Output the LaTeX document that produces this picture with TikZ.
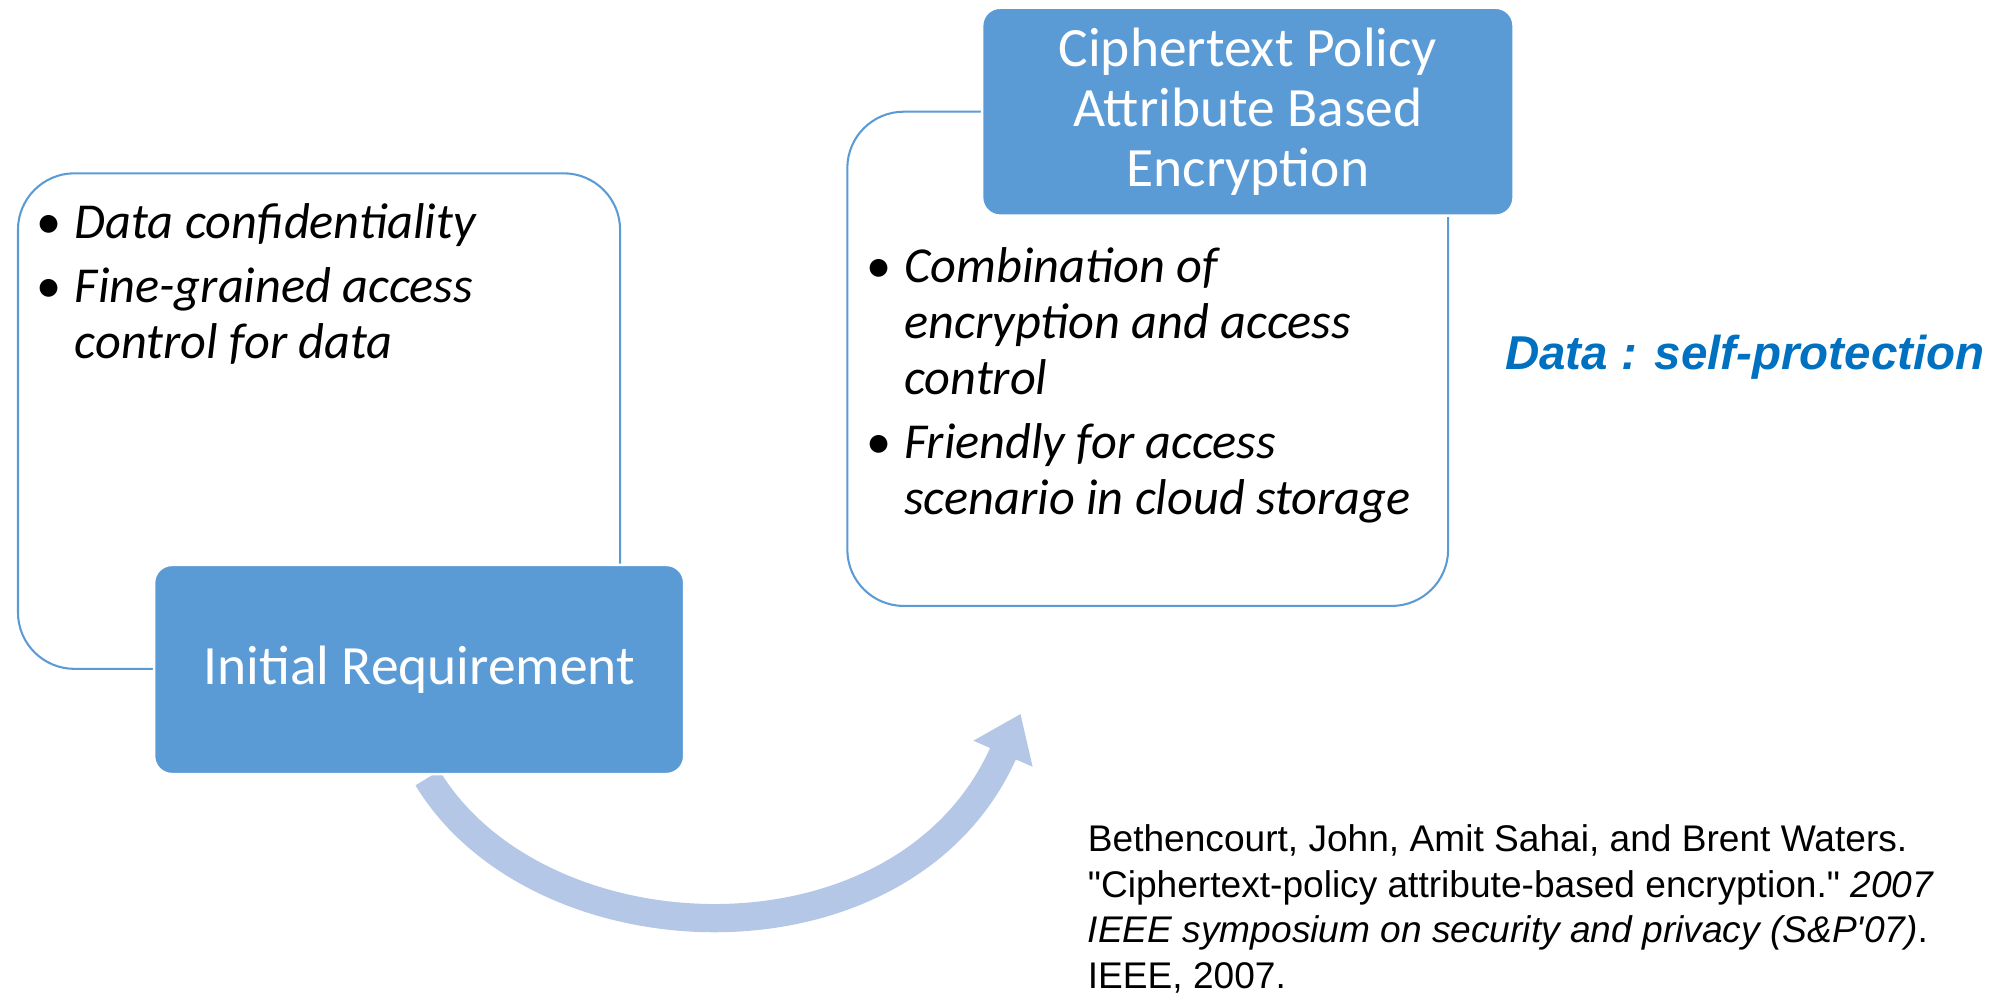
\documentclass[tikz,border=0pt]{standalone}
\usepackage{fontspec}
\setmainfont{Carlito}
\newfontfamily\arialf{Liberation Sans}[Ligatures=TeXOff]
\usetikzlibrary{arrows.meta}
\definecolor{boxblue}{HTML}{5B9BD5}
\definecolor{arrowblue}{HTML}{B4C7E7}
\definecolor{datablue}{HTML}{0070C0}
\begin{document}
\begin{tikzpicture}[x=0.5pt,y=-0.5pt,
  outline/.style={draw=boxblue, line width=0.8pt, rounded corners=22pt, fill=white},
  bluebox/.style={fill=boxblue, draw=white, line width=1pt, rounded corners=7pt,
    text=white, inner sep=0pt, font=\fontsize{21.6}{23.5}\selectfont},
  bul/.style={anchor=base, inner sep=0pt, font=\fontsize{19.6}{22}\selectfont},
  item/.style={anchor=base west, inner sep=0pt, align=left,
    font=\fontsize{19.6}{21.75}\selectfont\itshape},
  bigarrow/.style={draw=arrowblue, line width=11pt, -{Triangle[length=17pt,width=24pt]}}]
\useasboundingbox (0,0) rectangle (1568,774);

% outline boxes
\draw[outline] (14,135) rectangle (483,521);
\draw[outline] (660,87) rectangle (1128,472);

% arrow
\coordinate (arrstart) at (333,606);
\coordinate (arrtip) at (795,556);
\draw[bigarrow] (arrstart) .. controls (420,750) and (705,760) .. (arrtip);

% blue boxes
\node[bluebox, minimum width=206.5pt, minimum height=81.5pt] (ir) at (326.5,521.5) {Initial Requirement};
\node[bluebox, minimum width=207pt, minimum height=81pt, align=center] (cp) at (972,87)
  {Ciphertext Policy\\Attribute Based\\Encryption};

% left bullets (multi-line nodes are anchored at their last baseline)
\node[bul] (lb1) at (38,186) {\textbullet};
\node[item] (lt1) at (58,186) {Data confidentiality};
\node[bul] (lb2) at (38,236) {\textbullet};
\node[item] (lt2) at (58,279.5) {Fine-grained access\\control for data};

% right bullets
\node[bul] (rb1) at (685,220) {\textbullet};
\node[item] (rt1) at (704,307) {Combination of\\encryption and access\\control};
\node[bul] (rb2) at (685,357) {\textbullet};
\node[item] (rt2) at (704,400.5) {Friendly for access\\scenario in cloud storage};

% side note
\node[anchor=base west, inner sep=0pt, text=datablue,
  font=\arialf\fontsize{18.5}{22}\selectfont\bfseries\itshape] (data) at (1172,288) {Data : self-protection};

% citation
\node[anchor=base west, inner sep=0pt, align=left,
  font=\arialf\fontsize{14.45}{17.75}\selectfont] (cite) at (847,770)
  {Bethencourt, John, Amit Sahai, and Brent Waters.\\
   "Ciphertext-policy attribute-based encryption." \textit{2007}\\
   \textit{IEEE symposium on security and privacy (S\&P'07)}.\\
   IEEE, 2007.};
\end{tikzpicture}
\end{document}
